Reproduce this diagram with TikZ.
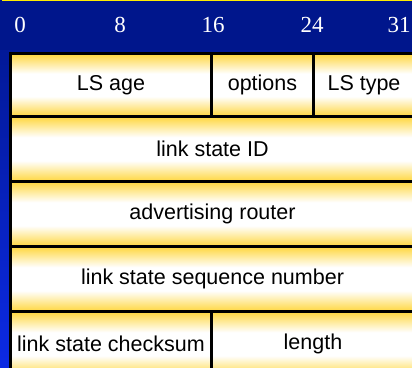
\documentclass[tikz,border=0pt]{standalone}
\usepackage{fontspec}
\setmainfont{Liberation Serif}
\newfontfamily\cellfont{Liberation Sans}
\definecolor{slidetop}{RGB}{0,22,140}
\definecolor{slidebottom}{RGB}{12,42,228}
\definecolor{gold}{RGB}{255,214,60}
\definecolor{rule}{RGB}{255,236,0}
% gold at the top and bottom edges, a white band through the middle
\pgfdeclareverticalshading{goldband}{100bp}{%
  color(0bp)=(gold); color(25bp)=(gold); color(41bp)=(white);
  color(59bp)=(white); color(75bp)=(gold); color(100bp)=(gold)}
\tikzset{
  cell/.style={draw=black, line width=3pt, rectangle, inner sep=0pt,
    anchor=north west, shading=goldband,
    font=\cellfont\fontsize{21.5}{23}\selectfont, text=black},
  bitlabel/.style={text=white, font=\fontsize{23}{24}\selectfont, inner sep=0pt}
}
\begin{document}
\begin{tikzpicture}[x=1pt,y=-1pt]
  \useasboundingbox (0,0) rectangle (412,367);
  \clip (0,0) rectangle (412,367);
  % slide background
  \shade[top color=slidetop, bottom color=slidebottom] (0,0) rectangle (412,367);
  \fill[slidetop] (0,0) rectangle (412,50);
  \draw[rule, line width=1.5pt] (2,0.5) -- (412,0.5);
  % bit positions
  \node[bitlabel] (b0)  at (20,24.5)  {0};
  \node[bitlabel] (b8)  at (120,24.5) {8};
  \node[bitlabel] (b16) at (213,24.5) {16};
  \node[bitlabel] (b24) at (312,24.5) {24};
  \node[bitlabel] (b31) at (399,24.5) {31};
  % LSA header fields
  \node[cell, minimum width=201, minimum height=63] (age)  at (9,52)   {LS age};
  \node[cell, minimum width=102, minimum height=63] (opt)  at (210,52) {options};
  \node[cell, minimum width=101, minimum height=63] (type) at (312,52) {LS type};
  \node[cell, minimum width=404, minimum height=65] (id)   at (9,115)  {link state ID};
  \node[cell, minimum width=404, minimum height=65] (adv)  at (9,180)  {advertising router};
  \node[cell, minimum width=404, minimum height=65] (seq)  at (9,245)  {link state sequence number};
  \node[cell, minimum width=201, minimum height=65] (csum) at (9,310)  {link state checksum};
  \node[cell, minimum width=203, minimum height=65] (len)  at (210,310) {length};
\end{tikzpicture}
\end{document}
